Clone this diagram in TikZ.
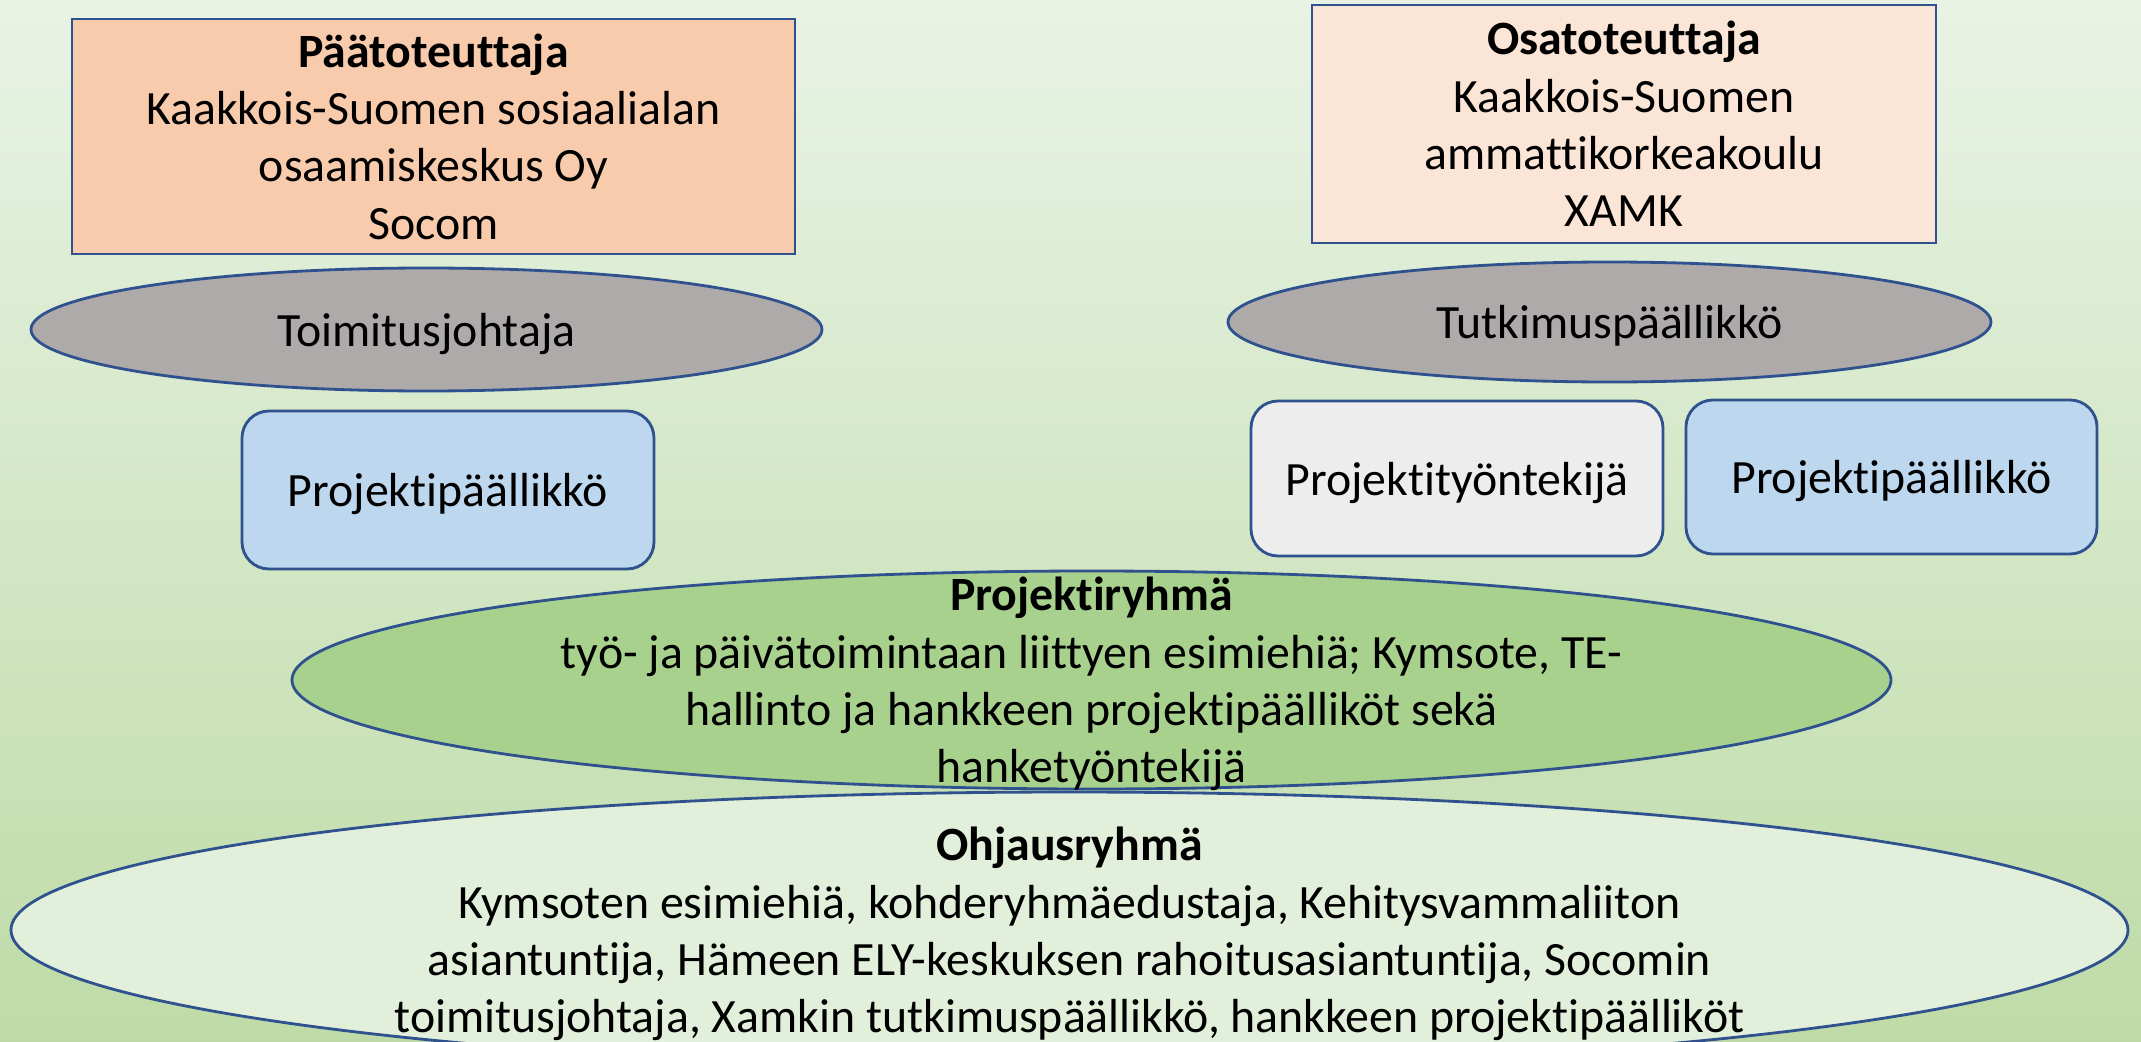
\documentclass[tikz,border=0pt]{standalone}
\usepackage{fontspec}
\setmainfont{Carlito}[Ligatures=NoCommon]
\usetikzlibrary{shapes.geometric}

\definecolor{edgeblue}{HTML}{2F528F}
\definecolor{peach}{HTML}{F8CBAD}
\definecolor{lightpeach}{HTML}{FBE5D6}
\definecolor{greyfill}{HTML}{AEAAAA}
\definecolor{paleblue}{HTML}{BDD7EE}
\definecolor{palegrey}{HTML}{EDEDED}
\definecolor{midgreen}{HTML}{A9D18E}
\definecolor{palegreen}{HTML}{E2EFDA}

\tikzset{
  orgbox/.style={draw=edgeblue, line width=0.8pt, rectangle, align=center, inner sep=0pt},
  rolebox/.style={draw=edgeblue, line width=0.8pt, rectangle, rounded corners=0.27cm,
    minimum width=4.12cm, minimum height=1.55cm, text depth=0pt},
  roleoval/.style={draw=edgeblue, line width=0.8pt, ellipse, inner sep=0pt, text depth=0pt},
  grouptext/.style={align=center, inner sep=0pt, yshift=-0.04cm},
}

\begin{document}
\begin{tikzpicture}[font=\fontsize{13.6}{16.3}\selectfont]
  \shade[top color={rgb,255:red,233;green,243;blue,229}, bottom color={rgb,255:red,190;green,219;blue,167}]
    (0,0) rectangle (21.41,-10.42);
  \useasboundingbox (0,0) rectangle (21.41,-10.42);

  % main implementer
  \node[orgbox, fill=peach, minimum width=7.23cm, minimum height=2.35cm] (paatot) at (4.335,-1.365)
    {\textbf{Päätoteuttaja}\\Kaakkois-Suomen sosiaalialan\\osaamiskeskus Oy\\Socom};
  \node[roleoval, fill=greyfill, minimum width=7.91cm, minimum height=1.23cm] (toimitus) at (4.265,-3.295) {Toimitusjohtaja};
  \node[rolebox, fill=paleblue, minimum height=1.58cm] (ppsocom) at (4.48,-4.90) {Projektipäällikkö};

  % sub implementer
  \node[orgbox, fill=lightpeach, minimum width=6.24cm, minimum height=2.38cm] (osatot) at (16.24,-1.24)
    {\textbf{Osatoteuttaja}\\Kaakkois-Suomen\\ammattikorkeakoulu\\XAMK};
  \node[roleoval, fill=greyfill, minimum width=7.63cm, minimum height=1.20cm] (tutkimus) at (16.095,-3.22) {Tutkimuspäällikkö};
  \node[rolebox, fill=palegrey] (tyontek) at (14.57,-4.785) {Projektityöntekijä};
  \node[rolebox, fill=paleblue, minimum width=4.11cm, minimum height=1.54cm] (ppxamk) at (18.915,-4.77) {Projektipäällikkö};

  % groups
  \node[roleoval, fill=midgreen, minimum width=15.99cm, minimum height=2.18cm] (projryhma) at (10.915,-6.80) {};
  \node[roleoval, fill=palegreen, minimum width=21.17cm, minimum height=2.76cm] (ohjaus) at (10.695,-9.30) {};
  \node[grouptext] (projtext) at (projryhma.center)
    {\textbf{Projektiryhmä}\\työ- ja päivätoimintaan liittyen esimiehiä; Kymsote, TE-\\hallinto ja hankkeen projektipäälliköt sekä\\hanketyöntekijä};
  \node[grouptext] (ohjaustext) at (ohjaus.center)
    {\textbf{Ohjausryhmä}\\Kymsoten esimiehiä, kohderyhmäedustaja, Kehitysvammaliiton\\asiantuntija, Hämeen ELY-keskuksen rahoitusasiantuntija, Socomin\\toimitusjohtaja, Xamkin tutkimuspäällikkö, hankkeen projektipäälliköt};
\end{tikzpicture}
\end{document}
